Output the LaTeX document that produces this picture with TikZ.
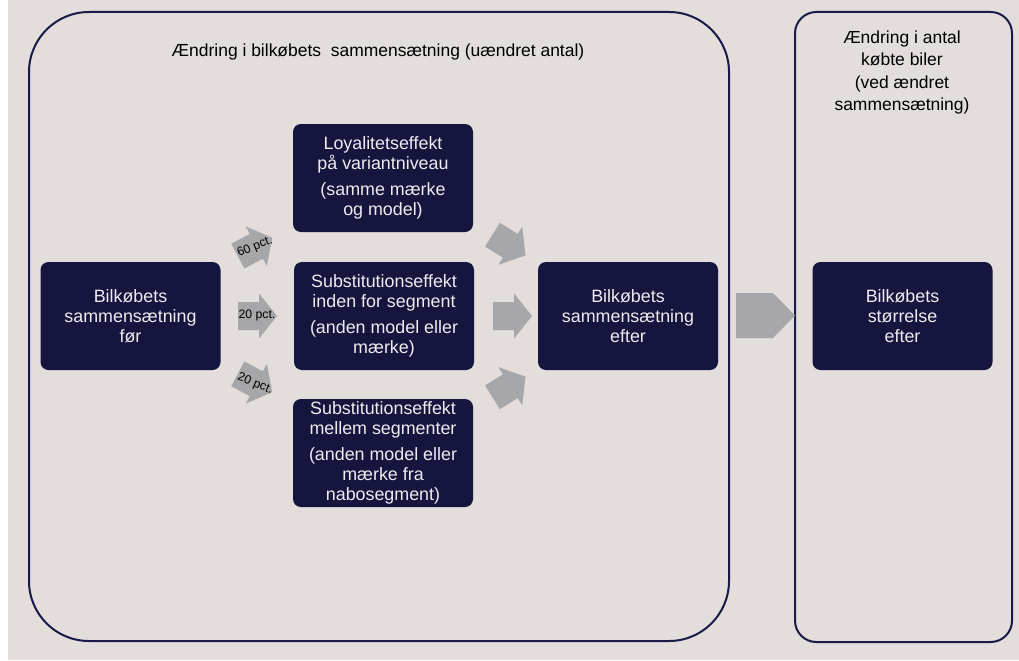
\documentclass[tikz,border=0pt]{standalone}
\usepackage{fontspec}
\setmainfont{Liberation Sans}
\definecolor{bg}{RGB}{227,221,220}
\definecolor{navy}{RGB}{21,21,62}
\definecolor{framec}{RGB}{26,26,72}
\definecolor{arrowgray}{RGB}{167,166,169}
\definecolor{boxtext}{RGB}{236,236,240}
\begin{document}
\begin{tikzpicture}[x=0.75pt,y=-0.75pt,
  darkbox/.style={fill=navy, rounded corners=6pt, text=boxtext, align=center,
    font=\fontsize{13.4}{15}\selectfont, minimum width=135pt, minimum height=81pt, inner sep=0pt},
  frame/.style={draw=framec, line width=1.5pt},
  title/.style={align=center, text=black, font=\fontsize{13.1}{16.8}\selectfont},
  smallarr/.pic={\fill[arrowgray] (-19.5,-14) -- (1.5,-14) -- (1.5,-22.5) -- (19.5,0)
      -- (1.5,22.5) -- (1.5,14) -- (-19.5,14) -- cycle;},
  bigarr/.pic={\fill[arrowgray] (-29.5,-22.5) -- (7.5,-22.5) -- (29.5,0) -- (7.5,22.5)
      -- (-29.5,22.5) -- cycle;},
  pct/.style={font=\fontsize{9.2}{10}\selectfont, text=black, inner sep=0pt}]
\useasboundingbox (0,0) rectangle (1019,660);
\fill[white] (0,0) rectangle (1019,660);
\fill[bg] (8,0) rectangle (1019,660);
% frames
\draw[frame, rounded corners=45pt] (29,12) rectangle (729,641);
\draw[frame, rounded corners=16pt] (795,12) rectangle (1012,642);
% titles
\node[title] (t1) at (378,52) {Ændring i bilkøbets\ \ sammensætning (uændret antal)};
\node[title] (t2) at (902,72.5) {Ændring i antal\\købte biler\\(ved ændret\\sammensætning)};
% boxes
\node[darkbox] (foer) at (130.5,316) {Bilkøbets\\sammensætning\\før};
\node[darkbox] (loyal) at (383,178) {Loyalitetseffekt\\på variantniveau\\[5pt](samme mærke\\og model)};
\node[darkbox] (subin) at (384,316) {Substitutionseffekt\\inden for segment\\[5pt](anden model eller\\mærke)};
\node[darkbox] (submel) at (383,453) {Substitutionseffekt\\mellem segmenter\\[5pt](anden model eller\\mærke fra\\nabosegment)};
\node[darkbox] (efter) at (628,316) {Bilkøbets\\sammensætning\\efter};
\node[darkbox] (stoer) at (902.5,316) {Bilkøbets\\størrelse\\efter};
% left arrows
\pic[rotate=28] (a60) at (255,247) {smallarr};
\pic (a20m) at (257.5,316) {smallarr};
\pic[rotate=-28] (a20b) at (255,383) {smallarr};
\node[pct, rotate=22] (l60) at (255,247) {60 pct.};
\node[pct] (l20m) at (257,315) {20 pct.};
\node[pct, rotate=-22] (l20b) at (255,384) {20 pct.};
% right arrows
\pic[rotate=-32] (r1) at (509,245) {smallarr};
\pic (r2) at (512.5,316) {smallarr};
\pic[rotate=32] (r3) at (509,387) {smallarr};
% big arrow
\pic (big) at (765.5,315.5) {bigarr};
\end{tikzpicture}
\end{document}
